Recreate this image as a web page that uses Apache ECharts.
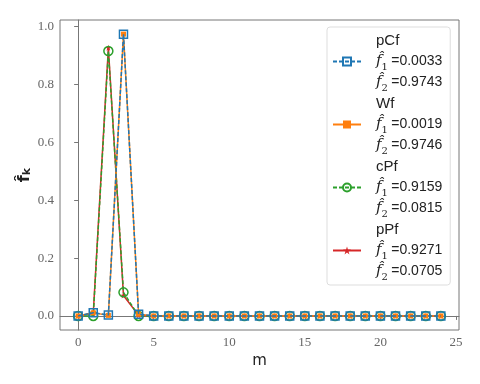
<!DOCTYPE html>
<html><head><meta charset="utf-8">
<script src="https://cdn.jsdelivr.net/npm/echarts@6/dist/echarts.min.js"></script>
<style>html,body{margin:0;padding:0;background:#fff}#c{width:480px;height:384px}</style>
</head><body><div id="c"></div>
<script>
const m = [0,1,2,3,4,5,6,7,8,9,10,11,12,13,14,15,16,17,18,19,20,21,22,23,24];
const pCf = [0,0.011,0.0033,0.9743,0.006,0,0,0,0,0,0,0,0,0,0,0,0,0,0,0,0,0,0,0,0];
const Wf  = [0,0.011,0.0019,0.9746,0.006,0,0,0,0,0,0,0,0,0,0,0,0,0,0,0,0,0,0,0,0];
const cPf = [0,0.0,0.9159,0.0815,0.0,0,0,0,0,0,0,0,0,0,0,0,0,0,0,0,0,0,0,0,0];
const pPf = [0,0.008,0.9271,0.0705,0.002,0,0,0,0,0,0,0,0,0,0,0,0,0,0,0,0,0,0,0,0];
const seriesNames = ['pCf','Wf','cPf','pPf'];
const f1Vals = ['0.0033','0.0019','0.9159','0.9271'];
const f2Vals = ['0.9743','0.9746','0.0815','0.0705'];
const xTicks = [0,5,10,15,20,25];
const yTicks = [0,0.2,0.4,0.6,0.8,1.0];

const star = 'path://M0,-1 L0.2245,-0.309 L0.951,-0.309 L0.363,0.118 L0.588,0.809 L0,0.382 L-0.588,0.809 L-0.363,0.118 L-0.951,-0.309 L-0.2245,-0.309 Z';
const C = ['#1f77b4','#ff7f0e','#2ca02c','#d62728'];
const pairs = a => m.map((x,i)=>[x,a[i]]);

const chart = echarts.init(document.getElementById('c'));
const serif = '"Liberation Serif", "DejaVu Serif", serif';
const sans = '"Liberation Sans", sans-serif';
chart.setOption({
  animation:false,
  grid:{left:60,right:21,top:20,bottom:54,show:true,borderColor:'#777',borderWidth:1,backgroundColor:'transparent'},
  xAxis:{type:'value',min:-1.2,max:25.2,
    name:'m',nameLocation:'middle',nameGap:22,nameTextStyle:{fontFamily:'"DejaVu Sans", sans-serif',fontSize:15,color:'#222'},
    axisLine:{show:true,lineStyle:{color:'#777'}},
    axisTick:{show:true,length:4,customValues:xTicks,lineStyle:{color:'#777'}},
    axisLabel:{customValues:xTicks,fontFamily:serif,fontSize:13,color:'#666',margin:6},
    splitLine:{show:false}},
  yAxis:{type:'value',min:-0.0487,max:1.0233,
    name:'{f|f̂}{k|k}',nameLocation:'middle',nameGap:27,nameRotate:90,nameMoveOverlap:false,
    nameTextStyle:{rich:{f:{fontFamily:'"DejaVu Sans", sans-serif',fontSize:16,fontWeight:'bold',color:'#222'},k:{fontFamily:'"DejaVu Sans", sans-serif',fontSize:11,fontWeight:'bold',color:'#222',verticalAlign:'bottom',padding:[6,0,0,0]}}},
    axisLine:{show:true,lineStyle:{color:'#777'}},
    axisTick:{show:true,length:4,customValues:yTicks,lineStyle:{color:'#777'}},
    axisLabel:{customValues:yTicks,fontFamily:serif,fontSize:13,color:'#666',margin:6,formatter:v=>v.toFixed(1)},
    splitLine:{show:false}},
  legend:{orient:'vertical',left:327,top:27,itemWidth:28,itemHeight:10,itemGap:3,
    padding:[6,8,3,5],borderColor:'#ddd',borderWidth:1,borderRadius:3,backgroundColor:'#fff',
    data:seriesNames,
    formatter:function(name){const i=seriesNames.indexOf(name);
      return '{t|'+name+'}\n{f|f̂}{s|1} {v|='+f1Vals[i]+'}\n{f|f̂}{s|2} {v|='+f2Vals[i]+'}';},
    textStyle:{padding:[0,0,0,10],rich:{
      t:{fontFamily:sans,fontSize:15,color:'#222',lineHeight:21},
      f:{fontFamily:'"DejaVu Serif", serif',fontStyle:'italic',fontSize:15,color:'#222',lineHeight:21},
      s:{fontFamily:'"DejaVu Serif", serif',fontSize:10,color:'#222',verticalAlign:'bottom',lineHeight:21,padding:[6,0,0,0]},
      v:{fontFamily:sans,fontSize:14,color:'#222',lineHeight:21}}}},
  series:[
    {name:'pCf',type:'line',data:pairs(pCf),z:5,symbol:'rect',symbolSize:8,
      lineStyle:{color:C[0],width:1.5,type:[4,2]},itemStyle:{color:'none',borderColor:C[0],borderWidth:1.5}},
    {name:'Wf',type:'line',data:pairs(Wf),z:4,symbol:'rect',symbolSize:5,
      lineStyle:{color:C[1],width:1.5},itemStyle:{color:C[1],borderWidth:0}},
    {name:'cPf',type:'line',data:pairs(cPf),z:3,symbol:'circle',symbolSize:9,
      lineStyle:{color:C[2],width:1.5,type:[4,2]},itemStyle:{color:'none',borderColor:C[2],borderWidth:1.5}},
    {name:'pPf',type:'line',data:pairs(pPf),z:2,symbol:star,symbolSize:6,
      lineStyle:{color:C[3],width:1.5},itemStyle:{color:C[3],borderWidth:0}}
  ]
});
</script></body></html>
